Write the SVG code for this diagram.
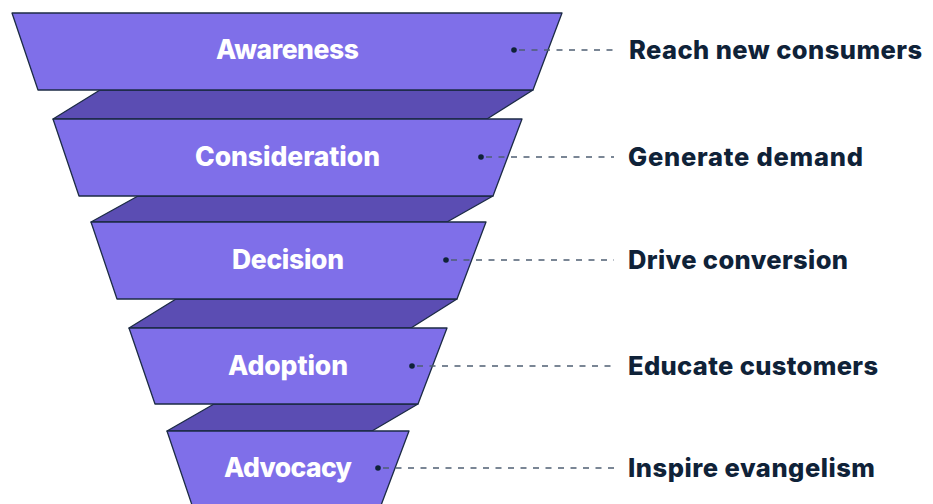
<svg xmlns="http://www.w3.org/2000/svg" width="933" height="504" viewBox="0 0 933 504">
<style>
.layer{fill:#7F6FE9;stroke:#1C2B45;stroke-width:1.3;stroke-linejoin:round}
.band{fill:#5B4DB3;stroke:#1C2B45;stroke-width:1.3;stroke-linejoin:round}
.lbl{font-family:Inter,"Liberation Sans",sans-serif;font-weight:800;font-size:26.5px;fill:#FFFFFF;text-anchor:middle}
.goal{font-family:Inter,"Liberation Sans",sans-serif;font-weight:800;font-size:25.5px;fill:#0F2238}
.dash{stroke:#4F5F73;stroke-width:1.5;stroke-dasharray:6 6.5;fill:none}
.dot{fill:#0F2238}
</style>
<rect width="933" height="504" fill="#FFFFFF"/>
<g id="bands">
<polygon class="band" points="100,90 533,90 487,119 53,119"/>
<polygon class="band" points="138,196 493,196 447,222 91,222"/>
<polygon class="band" points="176,299 457,299 411,328 129,328"/>
<polygon class="band" points="214,404 418,404 372,431 167,431"/>
</g>
<g id="awareness">
<polygon class="layer" points="12,13 562,13 533,90 38,90"/>
<text class="lbl" x="287.5" y="58.5" textLength="143" lengthAdjust="spacing">Awareness</text>
</g>
<g id="consideration">
<polygon class="layer" points="53,119 522,119 493,196 79,196"/>
<text class="lbl" x="287.5" y="165.5" textLength="185" lengthAdjust="spacing">Consideration</text>
</g>
<g id="decision">
<polygon class="layer" points="91,222 486,222 457,299 117,299"/>
<text class="lbl" x="288" y="268.5" textLength="112" lengthAdjust="spacing">Decision</text>
</g>
<g id="adoption">
<polygon class="layer" points="129,328 447,328 418,404 155,404"/>
<text class="lbl" x="288" y="374.5" textLength="120" lengthAdjust="spacing">Adoption</text>
</g>
<g id="advocacy">
<polygon class="layer" points="167,431 409,431 380,508 193,508"/>
<text class="lbl" x="288" y="476.5" textLength="128" lengthAdjust="spacing">Advocacy</text>
</g>
<g id="connectors">
<line class="dash" x1="519" y1="50" x2="614" y2="50"/>
<circle class="dot" cx="514" cy="50" r="2.8"/>
<line class="dash" x1="486" y1="157" x2="614" y2="157"/>
<circle class="dot" cx="481" cy="157" r="2.8"/>
<line class="dash" x1="451" y1="260" x2="614" y2="260"/>
<circle class="dot" cx="446" cy="260" r="2.8"/>
<line class="dash" x1="417" y1="366" x2="614" y2="366"/>
<circle class="dot" cx="412" cy="366" r="2.8"/>
<line class="dash" x1="383" y1="468" x2="614" y2="468"/>
<circle class="dot" cx="378" cy="468" r="2.8"/>
</g>
<g id="goals">
<text class="goal" x="629" y="59.3" textLength="293" lengthAdjust="spacing">Reach new consumers</text>
<text class="goal" x="628" y="166" textLength="235" lengthAdjust="spacing">Generate demand</text>
<text class="goal" x="628" y="269" textLength="220" lengthAdjust="spacing">Drive conversion</text>
<text class="goal" x="628" y="375" textLength="250" lengthAdjust="spacing">Educate customers</text>
<text class="goal" x="628" y="477" textLength="247" lengthAdjust="spacing">Inspire evangelism</text>
</g>
</svg>
